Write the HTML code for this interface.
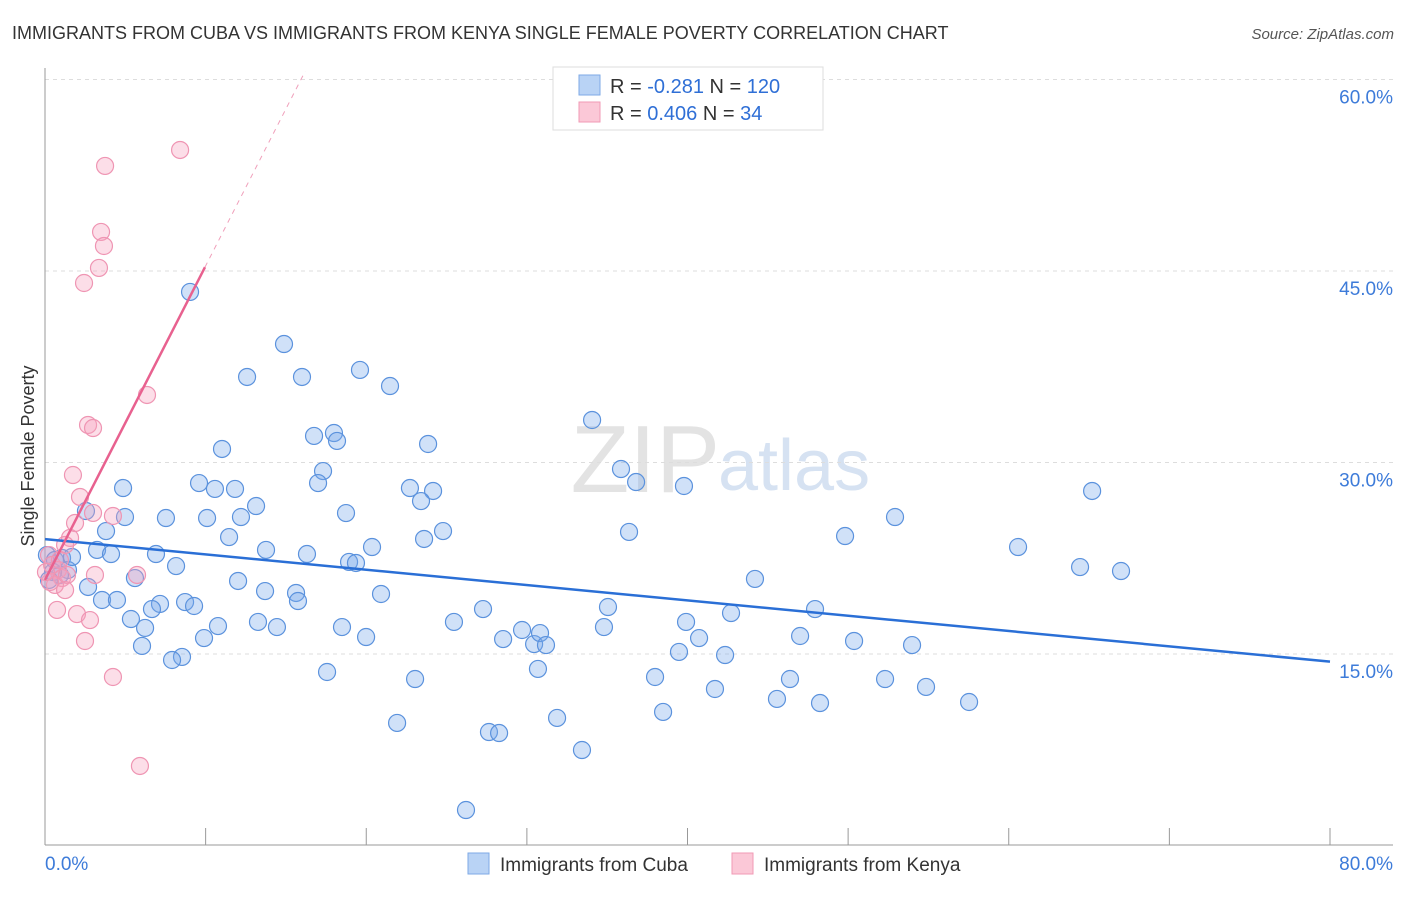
<!DOCTYPE html>
<html><head><meta charset="utf-8"><style>
body{margin:0;background:#fff;font-family:"Liberation Sans",sans-serif}
svg text{font-family:"Liberation Sans",sans-serif}
</style></head><body>
<svg id="chart" width="1406" height="892" xmlns="http://www.w3.org/2000/svg">
<text x="12" y="39" font-size="18" fill="#333">IMMIGRANTS FROM CUBA VS IMMIGRANTS FROM KENYA SINGLE FEMALE POVERTY CORRELATION CHART</text>
<text x="1394" y="39" font-size="15" fill="#555" text-anchor="end" font-style="italic">Source: ZipAtlas.com</text>
<text x="720" y="492" font-size="96" fill="#e3e3e3" text-anchor="end" font-family="Liberation Serif">ZIP</text>
<text x="718" y="490" font-size="72" fill="#d6e2f2">atlas</text>
<text transform="translate(34,456) rotate(-90)" font-size="18" fill="#333" text-anchor="middle">Single Female Poverty</text>
<g id="grid"></g><g id="axes"></g><g id="blue"></g><g id="pink"></g><g id="trends"></g>
<g>
<rect x="553" y="67" width="270" height="63" fill="#fff" stroke="#ddd"/>
<rect x="579" y="75" width="21" height="20" fill="#b9d3f5" stroke="#7ea9e6"/>
<rect x="579" y="102" width="21" height="20" fill="#fbc8d7" stroke="#f09ab4"/>
<text x="610" y="93" font-size="20" fill="#333">R = <tspan fill="#2f6fd6">-0.281</tspan>  N = <tspan fill="#2f6fd6">120</tspan></text>
<text x="610" y="120" font-size="20" fill="#333">R = <tspan fill="#2f6fd6"> 0.406</tspan>  N = <tspan fill="#2f6fd6">  34</tspan></text>
</g>
<g>
<rect x="468" y="853" width="21" height="21" fill="#b9d3f5" stroke="#7ea9e6"/>
<text x="500" y="871" font-size="19" fill="#333">Immigrants from Cuba</text>
<rect x="732" y="853" width="21" height="21" fill="#fbc8d7" stroke="#f09ab4"/>
<text x="764" y="871" font-size="19" fill="#333">Immigrants from Kenya</text>
</g>
</svg>
<script>
const xTicks=[0,10,20,30,40,50,60,70,80];
const yTicks=[15,30,45,60];
const cubaX=[9.03,14.88,12.58,16.00,19.61,21.48,34.06,11.02,16.75,17.99,18.18,23.85,9.59,10.58,11.83,4.86,17.31,17.00,22.72,24.16,35.86,36.80,39.78,65.19,2.55,4.98,7.53,10.09,12.20,13.14,18.74,23.41,24.78,23.60,36.36,49.81,52.92,3.80,3.24,4.11,6.91,11.46,13.76,16.31,20.36,18.93,19.36,60.58,64.44,66.99,8.16,12.02,13.70,15.63,15.75,20.92,5.60,2.68,3.55,4.48,7.16,8.72,9.28,6.66,5.35,6.23,10.77,13.26,14.44,18.49,19.99,25.46,27.27,35.05,42.71,47.94,44.20,9.90,6.04,8.53,7.91,28.52,29.70,30.45,30.82,31.19,34.80,39.91,40.72,47.01,50.37,53.98,42.34,39.47,17.56,23.04,30.69,37.98,41.71,46.38,52.30,54.85,45.57,48.25,57.53,38.48,31.88,21.92,27.64,28.27,33.43,26.21,0.12,0.62,1.06,1.43,0.93,1.68,0.50,0.25];
const cubaY=[43.36,39.28,36.70,36.70,37.25,35.99,33.33,31.06,32.08,32.31,31.69,31.45,28.39,27.93,27.93,28.00,29.33,28.39,28.00,27.77,29.49,28.47,28.16,27.77,26.20,25.73,25.65,25.65,25.73,26.59,26.04,26.98,24.63,24.01,24.56,24.24,25.73,24.63,23.15,22.83,22.83,24.16,23.15,22.83,23.38,22.21,22.13,23.38,21.81,21.50,21.89,20.72,19.93,19.78,19.15,19.70,20.95,20.25,19.23,19.23,18.92,19.07,18.76,18.52,17.74,17.04,17.19,17.51,17.11,17.11,16.33,17.51,18.52,18.68,18.21,18.52,20.88,16.25,15.63,14.77,14.53,16.17,16.88,15.78,16.64,15.70,17.11,17.51,16.25,16.41,16.02,15.70,14.92,15.16,13.59,13.04,13.83,13.20,12.26,13.04,13.04,12.42,11.48,11.16,11.24,10.46,9.99,9.60,8.89,8.81,7.48,2.78,22.75,22.36,22.52,21.58,21.19,22.60,21.42,20.80];
const kenyaX=[8.41,3.74,3.49,3.67,3.36,2.43,6.35,2.68,2.99,1.74,2.18,2.99,4.23,1.87,1.56,1.25,0.25,0.44,0.81,1.06,0.62,1.37,3.11,5.73,0.31,1.25,0.75,1.99,2.80,2.49,4.23,5.91,0.06,0.93];
const kenyaY=[54.48,53.23,48.06,46.96,45.24,44.06,35.29,32.94,32.70,29.02,27.30,26.05,25.81,25.26,24.09,23.54,22.75,21.97,21.58,20.95,20.41,21.19,21.19,21.19,20.64,20.01,18.45,18.13,17.66,16.02,13.20,6.23,21.42,22.36];
const cubaTrend=[24.0,-0.12];   // intercept, slope
const kenyaTrend=[20.8,2.46];
const kenyaSolidEnd=9.96, kenyaDashEnd=16.2;

const NS="http://www.w3.org/2000/svg";
const X=v=>45+v/80*1285;
const Y=v=>845.5-v/15*191.5;
function mk(tag,attrs,parent){const e=document.createElementNS(NS,tag);for(const k in attrs)e.setAttribute(k,attrs[k]);document.getElementById(parent).appendChild(e);return e;}
yTicks.forEach(t=>{
 const l=mk('line',{x1:45,x2:1393,y1:Y(t),y2:Y(t),stroke:'#ddd','stroke-dasharray':'4,4'},'grid');
 
 
 const tx=mk('text',{x:1393,y:Y(t)+24,'font-size':19,fill:'#3d7bd9','text-anchor':'end'},'grid');
 tx.textContent=t.toFixed(1)+'%';
 
 
});
const ax=mk('line',{x1:45,x2:45,y1:68,y2:845,stroke:'#999'},'axes');


const bx=mk('line',{x1:45,x2:1393,y1:845,y2:845,stroke:'#999'},'axes');


xTicks.forEach(t=>{
 const l=mk('line',{x1:X(t),x2:X(t),y1:828,y2:845,stroke:'#999'},'axes');
 
 
});
[[0,'start'],[80,'end']].forEach(([t,a])=>{
 const tx=mk('text',{x:t===0?45:1393,y:870,'font-size':19,fill:'#3d7bd9','text-anchor':a},'axes');
 tx.textContent=t.toFixed(1)+'%';
 
 
});
cubaX.forEach((x,i)=>{
 const c=mk('circle',{cx:X(x),cy:Y(cubaY[i]),r:8.5,fill:'rgba(120,170,235,0.35)',stroke:'#5b92dd','stroke-width':1.2},'blue');
 
 
});
kenyaX.forEach((x,i)=>{
 const c=mk('circle',{cx:X(x),cy:Y(kenyaY[i]),r:8.5,fill:'rgba(245,160,190,0.35)',stroke:'#ef95b3','stroke-width':1.2},'pink');
 
 
});
const bt=mk('line',{x1:X(0),y1:Y(cubaTrend[0]),x2:X(80),y2:Y(cubaTrend[0]+cubaTrend[1]*80),stroke:'#2a6fd6','stroke-width':2.5},'trends');


const pt=mk('line',{x1:X(0),y1:Y(kenyaTrend[0]),x2:X(kenyaSolidEnd),y2:Y(kenyaTrend[0]+kenyaTrend[1]*kenyaSolidEnd),stroke:'#e8618f','stroke-width':2.5},'trends');


const pd=mk('line',{x1:X(kenyaSolidEnd),y1:Y(kenyaTrend[0]+kenyaTrend[1]*kenyaSolidEnd),x2:X(kenyaDashEnd),y2:Y(kenyaTrend[0]+kenyaTrend[1]*kenyaDashEnd),stroke:'#f0a0bb','stroke-width':1,'stroke-dasharray':'5,5'},'trends');


</script>
</body></html>
